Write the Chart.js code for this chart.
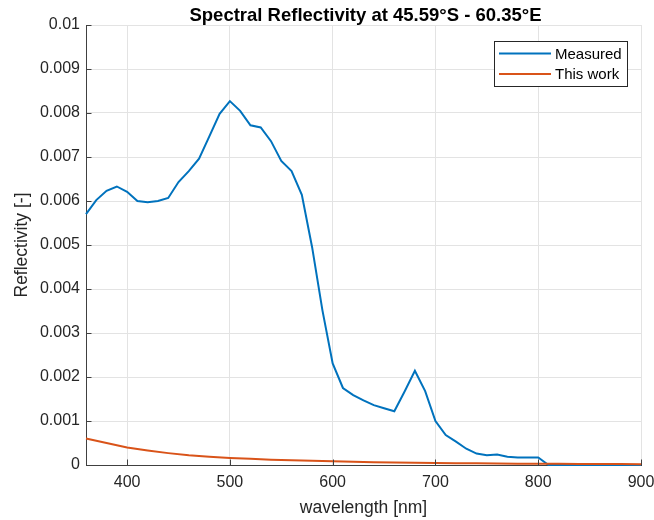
<!DOCTYPE html>
<html>
<head>
<meta charset="utf-8">
<title>Spectral Reflectivity</title>
<script src="https://cdn.jsdelivr.net/npm/chart.js@4.4.0/dist/chart.umd.min.js"></script>
<style>
  html, body { margin: 0; padding: 0; background: #fff; }
  canvas { display: block; }
</style>
</head>
<body>
<canvas id="chart" width="654" height="520"></canvas>
<script>
// values
const measuredWl = [
  360, 370, 380, 390, 400, 410, 420, 430, 440, 450,
  460, 470, 480, 490, 500, 510, 520, 530, 540, 550,
  560, 570, 580, 590, 600, 610, 620, 630, 640, 650,
  660, 670, 680, 690, 700, 710, 720, 730, 740, 750,
  760, 770, 780, 790, 800, 810, 820, 830, 840, 850,
  860, 870, 880, 890, 900,
];
const measured = [
  0.00570, 0.00602, 0.00623, 0.00633, 0.00621, 0.00600, 0.00597, 0.00600, 0.00607, 0.00643,
  0.00668, 0.00696, 0.00747, 0.00798, 0.00827, 0.00805, 0.00772, 0.00767, 0.00736, 0.00691,
  0.00668, 0.00614, 0.00495, 0.00352, 0.00231, 0.00175, 0.00159, 0.00147, 0.00136, 0.00129,
  0.00122, 0.00167, 0.00214, 0.00168, 0.00100, 0.00068, 0.00053, 0.00037, 0.00026, 0.00022,
  0.00024, 0.00019, 0.00017, 0.00017, 0.00017, 0, 0, 0, 0, 0,
  0, 0, 0, 0, 0,
];

const modelWl = [
  360, 380, 400, 420, 440, 460, 480, 500, 520, 540,
  560, 580, 600, 620, 640, 660, 680, 700, 720, 740,
  760, 780, 800, 820, 840, 860, 880, 900,
];
const model = [
  0.00060, 0.00050, 0.00040, 0.00033, 0.00027, 0.00022, 0.00019, 0.00016, 0.00014, 0.00012,
  0.00011, 0.000095, 0.000085, 0.000075, 0.000065, 0.000058, 0.000052, 0.000046, 0.000042, 0.000038,
  0.000034, 0.000031, 0.000028, 0.000026, 0.000024, 0.000022, 0.000020, 0.000018,
];

const xTicks = [400, 500, 600, 700, 800, 900];
const yTicks = [0, 0.001, 0.002, 0.003, 0.004, 0.005, 0.006, 0.007, 0.008, 0.009, 0.01];
const yTickLabels = ["0", "0.001", "0.002", "0.003", "0.004", "0.005", "0.006", "0.007", "0.008", "0.009", "0.01"];

const seriesLabels = ["Measured", "This work"];
const titleText = "Spectral Reflectivity at 45.59°S - 60.35°E";
const xTitle = "wavelength [nm]";
const yTitle = "Reflectivity [-]";

const FONT = "'Liberation Sans', Arial, Helvetica, sans-serif";
const INK = "#262626";
const AXIS = "#404040";
const GRID = "#e3e3e3";
const BLUE = "#0072BD";
const ORANGE = "#D95319";

const toPoints = (xs, ys) => xs.map((x, i) => ({ x, y: ys[i] }));

// matlab-ish decorations: inward ticks, title, axis labels, boxed legend
const matlabLook = {
  id: "matlabLook",
  afterDatasetsDraw(chart) {
    const { ctx, chartArea: a, scales } = chart;
    ctx.save();
    ctx.strokeStyle = AXIS;
    ctx.lineWidth = 1;
    ctx.beginPath();
    xTicks.forEach((v) => {
      const px = Math.round(scales.x.getPixelForValue(v)) + 0.5;
      ctx.moveTo(px, a.bottom);
      ctx.lineTo(px, a.bottom - 5.5);
    });
    yTicks.forEach((v) => {
      const py = Math.round(scales.y.getPixelForValue(v)) + 0.5;
      ctx.moveTo(a.left, py);
      ctx.lineTo(a.left + 5.5, py);
    });
    ctx.stroke();
    ctx.restore();
  },
  afterDraw(chart) {
    const { ctx, chartArea: a } = chart;
    const cx = (a.left + a.right) / 2;
    const cy = (a.top + a.bottom) / 2;
    ctx.save();
    ctx.fillStyle = "#000";
    ctx.textAlign = "center";
    ctx.textBaseline = "middle";
    ctx.font = "bold 18.5px " + FONT;
    ctx.fillText(titleText, cx + 2, 16);

    ctx.fillStyle = INK;
    ctx.font = "17.5px " + FONT;
    ctx.fillText(xTitle, cx, 508);
    ctx.translate(22, cy);
    ctx.rotate(-Math.PI / 2);
    ctx.fillText(yTitle, 0, 0);
    ctx.restore();

    // legend
    const box = { x: 494.5, y: 41.5, w: 133, h: 45 };
    ctx.save();
    ctx.fillStyle = "#fff";
    ctx.fillRect(box.x, box.y, box.w, box.h);
    ctx.strokeStyle = INK;
    ctx.lineWidth = 1;
    ctx.strokeRect(box.x, box.y, box.w, box.h);
    ctx.font = "15px " + FONT;
    ctx.textAlign = "left";
    ctx.textBaseline = "middle";
    chart.data.datasets.forEach((ds, i) => {
      const ly = 53.5 + i * 20.5;
      ctx.strokeStyle = ds.borderColor;
      ctx.lineWidth = 2;
      ctx.beginPath();
      ctx.moveTo(499, ly);
      ctx.lineTo(551, ly);
      ctx.stroke();
      ctx.fillStyle = "#000";
      ctx.fillText(ds.label, 555, ly + 1);
    });
    ctx.restore();
  },
};

new Chart(document.getElementById("chart"), {
  type: "line",
  data: {
    datasets: [
      {
        label: seriesLabels[0],
        data: toPoints(measuredWl, measured),
        borderColor: BLUE,
        borderWidth: 2,
        pointRadius: 0,
        tension: 0,
        clip: false,
        order: 1,
      },
      {
        label: seriesLabels[1],
        data: toPoints(modelWl, model),
        borderColor: ORANGE,
        borderWidth: 2,
        pointRadius: 0,
        tension: 0,
        clip: false,
        order: 0,
      },
    ],
  },
  options: {
    responsive: false,
    animation: false,
    layout: { padding: { top: 25, right: 13, left: 0, bottom: 0 } },
    plugins: {
      legend: { display: false },
      title: { display: false },
      tooltip: { enabled: false },
    },
    scales: {
      x: {
        type: "linear",
        min: 360,
        max: 900,
        afterBuildTicks: (s) => { s.ticks = xTicks.map((value) => ({ value })); },
        afterFit: (s) => { s.height = 55; s.paddingLeft = 0; s.paddingRight = 0; },
        ticks: {
          color: INK,
          font: { family: FONT, size: 16 },
          padding: 8,
          maxRotation: 0,
          autoSkip: false,
          callback: (v) => String(v),
        },
        grid: { color: GRID, drawTicks: false },
        border: { color: AXIS, width: 1 },
      },
      y: {
        type: "linear",
        min: 0,
        max: 0.01,
        afterBuildTicks: (s) => { s.ticks = yTicks.map((value) => ({ value })); },
        afterFit: (s) => { s.width = 86; s.paddingTop = 0; s.paddingBottom = 0; },
        ticks: {
          color: INK,
          font: { family: FONT, size: 16 },
          padding: 6,
          autoSkip: false,
          callback: (v, i) => yTickLabels[i],
        },
        grid: { color: GRID, drawTicks: false },
        border: { color: AXIS, width: 1 },
      },
    },
  },
  plugins: [matlabLook],
});
</script>
</body>
</html>
